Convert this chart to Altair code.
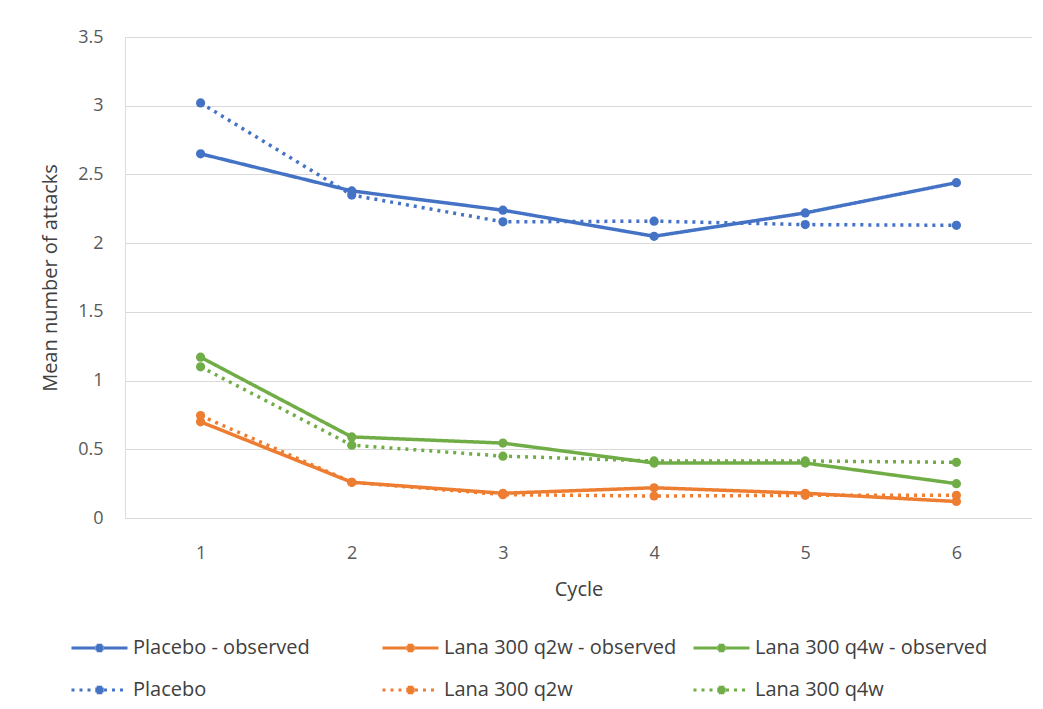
import altair as alt
import pandas as pd

cycles = [1, 2, 3, 4, 5, 6]
series_names = [
    "Placebo - observed", "Lana 300 q2w - observed", "Lana 300 q4w - observed",
    "Placebo", "Lana 300 q2w", "Lana 300 q4w",
]
placebo_obs = [2.65, 2.38, 2.24, 2.05, 2.22, 2.44]
q2w_obs = [0.70, 0.26, 0.18, 0.22, 0.18, 0.12]
q4w_obs = [1.17, 0.59, 0.545, 0.40, 0.40, 0.25]
placebo_pred = [3.02, 2.35, 2.155, 2.16, 2.135, 2.13]
q2w_pred = [0.745, 0.26, 0.17, 0.16, 0.165, 0.165]
q4w_pred = [1.10, 0.53, 0.45, 0.415, 0.415, 0.405]
series_colors = ["#4472C4", "#ED7D31", "#70AD47", "#4472C4", "#ED7D31", "#70AD47"]
series_dashes = [[1, 0], [1, 0], [1, 0], [3, 5], [3, 5], [3, 5]]
y_ticks = [0, 0.5, 1, 1.5, 2, 2.5, 3, 3.5]

all_values = [placebo_obs, q2w_obs, q4w_obs, placebo_pred, q2w_pred, q4w_pred]
rows = []
for name, vals in zip(series_names, all_values):
    for c, v in zip(cycles, vals):
        rows.append({"Cycle": c, "value": v, "series": name})
df = pd.DataFrame(rows)

# legend symbol: line with a dot in the middle (dot built from short sub-paths)
sym = ("M-1,0H-0.16M0.16,0H1"
       "M-0.1,-0.1H0M0,-0.1H0.1"
       "M-0.15,-0.035H-0.05M-0.05,-0.035H0.05M0.05,-0.035H0.15"
       "M-0.15,0.035H-0.05M-0.05,0.035H0.05M0.05,0.035H0.15"
       "M-0.1,0.1H0M0,0.1H0.1")

FONT = "Open Sans"
legend = alt.Legend(
    title=None, orient="none", direction="horizontal", legendX=-55, legendY=599,
    columns=3, symbolType=sym, symbolSize=3136, symbolStrokeWidth=3, clipHeight=24,
    rowPadding=18, columnPadding=15, gridAlign="all", labelOffset=4,
    labelFont=FONT, labelFontSize=20, labelColor="#404040", labelLimit=400,
    padding=0, symbolOpacity=1,
)

chart = alt.Chart(df).mark_line(
    strokeWidth=3.5, point=alt.OverlayMarkDef(filled=True, size=85, opacity=1, shape="circle")
).encode(
    x=alt.X("Cycle:O", title="Cycle", axis=alt.Axis(
        labelAngle=0, ticks=False, tickSize=0, domain=False, grid=False,
        labelPadding=26, titlePadding=17, labelFont=FONT, labelFontSize=18,
        labelColor="#595959", titleFont=FONT, titleFontSize=20,
        titleColor="#404040", titleFontWeight="normal")),
    y=alt.Y("value:Q", title="Mean number of attacks",
            scale=alt.Scale(domain=[0, 3.5], nice=False, zero=True),
            axis=alt.Axis(values=y_ticks, format="~g", ticks=False, tickSize=0,
                          domain=False, grid=True, gridColor="#d9d9d9",
                          gridWidth=1.2, labelPadding=22, titlePadding=17,
                          labelFont=FONT, labelFontSize=18, labelColor="#595959",
                          titleFont=FONT, titleFontSize=20, titleColor="#404040",
                          titleFontWeight="normal")),
    color=alt.Color("series:N", scale=alt.Scale(domain=series_names, range=series_colors),
                    legend=legend, sort=series_names),
    strokeDash=alt.StrokeDash("series:N", scale=alt.Scale(domain=series_names, range=series_dashes),
                              legend=legend, sort=series_names),
    order=alt.Order("Cycle:Q"),
).properties(
    width=907, height=481,
    autosize=alt.AutoSizeParams(type="none"),
    padding={"left": 117, "top": 29, "right": 0, "bottom": 183},
).configure_view(stroke=None).configure(background="white")

chart.save("out.html", embed_options={"renderer": "svg", "actions": False})
